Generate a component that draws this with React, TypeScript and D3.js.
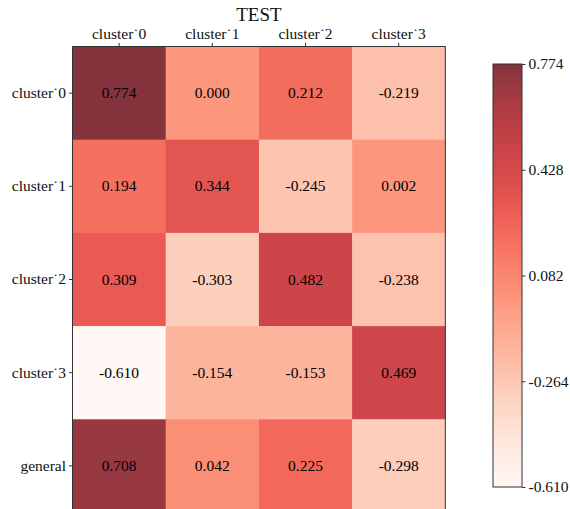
import React, { useRef, useEffect } from 'react';
import * as d3 from 'd3';

const columns = ['cluster˙0', 'cluster˙1', 'cluster˙2', 'cluster˙3'];
const rows = ['cluster˙0', 'cluster˙1', 'cluster˙2', 'cluster˙3', 'general'];

// one array per row, in column order
const cluster0Row = [0.774, 0.0, 0.212, -0.219];
const cluster1Row = [0.194, 0.344, -0.245, 0.002];
const cluster2Row = [0.309, -0.303, 0.482, -0.238];
const cluster3Row = [-0.61, -0.154, -0.153, 0.469];
const generalRow = [0.708, 0.042, 0.225, -0.298];

const colorbarTicks = [-0.61, -0.264, 0.082, 0.428, 0.774];

const FONT = "Liberation Serif";

const App = () => {
    const ref = useRef<SVGSVGElement>(null);

    useEffect(() => {
        const svg = d3.select(ref.current)
            .attr('width', 570)
            .attr('height', 509)
            .style('font-family', FONT);

        svg.selectAll('*').remove();

        const values = [cluster0Row, cluster1Row, cluster2Row, cluster3Row, generalRow];
        const cells = values.flatMap((row, i) =>
            row.map((v, j) => ({ row: rows[i], col: columns[j], value: v }))
        );

        const vmin = d3.min(cells, d => d.value) as number;
        const vmax = d3.max(cells, d => d.value) as number;

        // Reds colormap drawn at alpha 0.8 over white
        const alpha = 0.8;
        const color = (v: number) => {
            const t = (v - vmin) / (vmax - vmin);
            return d3.interpolateRgb('#ffffff', d3.interpolateReds(t))(alpha);
        };

        const left = 72.5;
        const top = 46.5;
        const cell = 93.2;

        const x = d3.scaleBand()
            .domain(columns)
            .range([left, left + cell * columns.length]);

        const y = d3.scaleBand()
            .domain(rows)
            .range([top, top + cell * rows.length]);

        // cells
        svg.append('g')
            .selectAll('rect')
            .data(cells)
            .enter().append('rect')
            .attr('x', d => x(d.col)!)
            .attr('y', d => y(d.row)!)
            .attr('width', x.bandwidth() + 0.5)
            .attr('height', y.bandwidth() + 0.5)
            .attr('fill', d => color(d.value));

        svg.append('g')
            .selectAll('text')
            .data(cells)
            .enter().append('text')
            .attr('x', d => x(d.col)! + x.bandwidth() / 2)
            .attr('y', d => y(d.row)! + y.bandwidth() / 2 + 5)
            .attr('text-anchor', 'middle')
            .style('font-family', FONT)
            .style('font-size', '15.5px')
            .attr('fill', '#000')
            .text(d => d.value.toFixed(3));

        // frame
        svg.append('rect')
            .attr('x', left)
            .attr('y', top)
            .attr('width', cell * columns.length)
            .attr('height', cell * rows.length)
            .attr('fill', 'none')
            .attr('stroke', '#333')
            .attr('stroke-width', 1);

        // axes
        const xAxis = svg.append('g')
            .attr('transform', `translate(0,${top})`)
            .call(d3.axisTop(x).tickSize(3.5).tickPadding(4));
        const yAxis = svg.append('g')
            .attr('transform', `translate(${left},0)`)
            .call(d3.axisLeft(y).tickSize(3.5).tickPadding(3));

        [xAxis, yAxis].forEach(a => {
            a.attr('font-family', null).attr('font-size', null);
            a.select('.domain').remove();
            a.selectAll('line').attr('stroke', '#333');
            a.selectAll('text')
                .style('font-family', FONT)
                .style('font-size', '15.5px')
                .attr('fill', '#111');
        });

        svg.append('text')
            .attr('x', left + cell * columns.length / 2)
            .attr('y', 21)
            .attr('text-anchor', 'middle')
            .style('font-family', FONT)
            .style('font-size', '19px')
            .attr('fill', '#111')
            .text('TEST');

        // colorbar
        const cbLeft = 493;
        const cbWidth = 29;
        const cbTop = 64;
        const cbBottom = 487;

        const cy = d3.scaleLinear()
            .domain([vmin, vmax])
            .range([cbBottom, cbTop]);

        const grad = svg.append('defs').append('linearGradient')
            .attr('id', 'cbgrad')
            .attr('x1', 0).attr('y1', 1)
            .attr('x2', 0).attr('y2', 0);
        d3.range(0, 1.0001, 0.02).forEach(t => {
            grad.append('stop')
                .attr('offset', t)
                .attr('stop-color', color(vmin + t * (vmax - vmin)));
        });

        svg.append('rect')
            .attr('x', cbLeft)
            .attr('y', cbTop)
            .attr('width', cbWidth)
            .attr('height', cbBottom - cbTop)
            .attr('fill', 'url(#cbgrad)')
            .attr('stroke', '#333')
            .attr('stroke-width', 1);

        const cAxis = svg.append('g')
            .attr('transform', `translate(${cbLeft + cbWidth},0)`)
            .call(d3.axisRight(cy)
                .tickValues(colorbarTicks)
                .tickFormat(d => (d as number).toFixed(3))
                .tickSize(3.5)
                .tickPadding(3));
        cAxis.attr('font-family', null).attr('font-size', null);
        cAxis.select('.domain').remove();
        cAxis.selectAll('line').attr('stroke', '#333');
        cAxis.selectAll('text')
            .style('font-family', FONT)
            .style('font-size', '15.5px')
            .attr('fill', '#111');
    }, []);

    return (
        <svg ref={ref} style={{ position: 'absolute', left: 0, top: 0 }}></svg>
    );
};

export default App;
